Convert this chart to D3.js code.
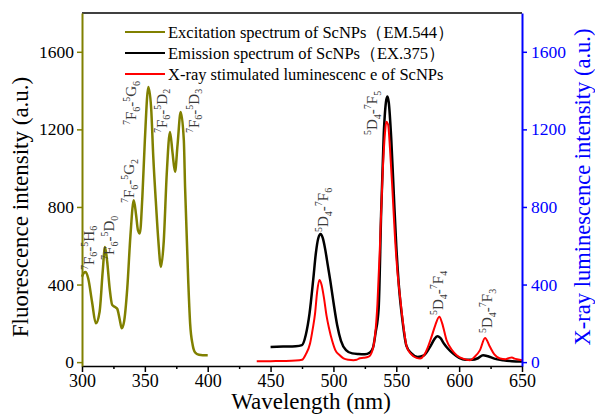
<!DOCTYPE html>
<html>
<head>
<meta charset="utf-8">
<script src="https://cdn.jsdelivr.net/npm/d3@7"></script>
<style>
  body { margin: 0; background: #fff; }
  svg { display: block; font-family: "Liberation Serif", "Times New Roman", serif; }
</style>
</head>
<body>
<svg id="chart" width="595" height="416"></svg>
<script>
// ---- data ----
var excitationNm  = [300, 301.5, 303, 305, 308, 311, 314, 316.5, 318.3, 320, 322, 324, 326, 328, 330, 331.6, 333.5, 336, 338.5, 341.2, 343, 344.5, 346, 348, 350, 352.8, 355, 356.7, 359, 360.7, 362.8, 365, 367.4, 370, 372, 374, 376, 378.5, 381, 382, 384.5, 386, 388, 390, 393, 396, 400];
var excitationVal = [440, 460, 465, 430, 310, 200, 260, 470, 594, 520, 380, 295, 285, 275, 220, 174, 210, 380, 650, 835, 760, 680, 663, 850, 1144, 1419, 1310, 1058, 800, 629, 491, 620, 970, 1187, 1080, 981, 1120, 1290, 1144, 900, 420, 200, 90, 50, 38, 36, 36];

var emissionNm  = [450, 460, 470, 475, 478, 481, 484, 486, 488, 489.8, 491.5, 493.5, 495.5, 497.5, 500, 503, 506, 510, 515, 520, 525, 529, 531.5, 533.5, 536, 538, 540, 542, 543, 544, 546, 548, 550, 552, 555, 558, 562, 567, 572, 577, 580, 582.6, 585, 588, 591, 595, 600, 605, 610, 615, 619, 623, 628, 635, 642, 650];
var emissionVal = [78, 80, 82, 88, 140, 251, 430, 560, 640, 660, 640, 580, 500, 420, 310, 190, 110, 62, 45, 42, 41, 50, 75, 150, 280, 780, 1170, 1350, 1370, 1340, 1150, 870, 600, 400, 210, 85, 45, 27, 35, 80, 115, 134, 125, 95, 70, 45, 22, 12, 12, 20, 36, 30, 18, 10, 5, 3];

var xrayNm  = [439, 450, 460, 470, 475, 478, 481.4, 483.5, 485.4, 487, 488.8, 490.5, 492.5, 494.5, 496.5, 499, 501.5, 505, 508, 512, 516, 518.5, 521, 524, 528, 531, 533, 535, 537, 539, 541, 542, 543.5, 545, 547, 549, 551, 553, 556, 558.3, 562, 566, 569, 572, 575, 578, 581, 584.2, 586.5, 590, 594, 598, 603, 608.6, 612, 616.6, 620.6, 624.5, 628, 632.5, 637, 640, 642, 644, 647, 650];
var xrayVal = [4, 5, 6, 8, 12, 40, 96, 170, 251, 360, 423, 400, 330, 240, 175, 110, 62, 35, 19, 12, 10, 12, 20, 22, 28, 60, 130, 300, 600, 950, 1180, 1239, 1225, 1100, 880, 640, 460, 337, 170, 79, 40, 22, 19, 35, 75, 130, 190, 234, 200, 113, 65, 36, 18, 10, 25, 62, 125, 79, 40, 19, 15, 22, 24, 18, 14, 10];

var xTicks = [300, 350, 400, 450, 500, 550, 600, 650];
var xMinorTicks = [325, 375, 425, 475, 525, 575, 625];
var yTicks = [0, 400, 800, 1200, 1600];

var legendLabels = ["Excitation spectrum of ScNPs\uff08EM.544\uff09",
                    "Emission spectrum of ScNPs\uff08EX.375\uff09",
                    "X-ray stimulated luminescenc e of ScNPs"];
var legendColors = ["#808000", "#000000", "#ff0000"];

// transition labels: ^ = superscript, _ = subscript, anchored at [nm, value]
var peakLabels = ["^7F_6-^5H_6", "^7F_6-^5D_0", "^7F_6-^5G_2", "^7F_6-^5G_6", "^7F_6-^5D_2", "^7F_6-^5D_3",
                  "^5D_4-^7F_6", "^5D_4-^7F_5", "^5D_4-^7F_4", "^5D_4-^7F_3"];
var peakLabelNm  = [309.5, 325.5, 341.4, 343, 367.6, 393, 495.7, 534.7, 587.2, 626.2];
var peakLabelVal = [475, 527, 820, 1222, 1181, 1181, 671, 1171, 243, 150];

// ---- layout ----
var svg = d3.select("#chart");
var plotLeft = 82, plotRight = 522, plotTop = 13, plotBottom = 366;

var x = d3.scaleLinear().domain([300, 650]).range([plotLeft, plotRight]);
var y = d3.scaleLinear().domain([-20, 1800]).range([plotBottom, plotTop]);

function zipSeries(nm, val) {
    return nm.map(function (d, i) { return [d, val[i]]; });
}

var line = d3.line()
    .x(function (d) { return x(d[0]); })
    .y(function (d) { return y(d[1]); })
    .curve(d3.curveMonotoneX);

var plot = svg.append("g");

plot.append("path").datum(zipSeries(excitationNm, excitationVal))
    .attr("d", line).attr("fill", "none")
    .attr("stroke", "#808000").attr("stroke-width", 2.5);

plot.append("path").datum(zipSeries(emissionNm, emissionVal))
    .attr("d", line).attr("fill", "none")
    .attr("stroke", "#000").attr("stroke-width", 2.5);

plot.append("path").datum(zipSeries(xrayNm, xrayVal))
    .attr("d", line).attr("fill", "none")
    .attr("stroke", "#ff0000").attr("stroke-width", 2);

// ---- axes ----
// top frame line
svg.append("line").attr("x1", plotLeft).attr("x2", plotRight).attr("y1", plotTop).attr("y2", plotTop)
    .attr("stroke", "#000").attr("stroke-width", 1.5);

var xAxisMinor = d3.axisBottom(x).tickValues(xMinorTicks).tickSize(3).tickFormat("");
svg.append("g").attr("transform", "translate(0," + plotBottom + ")").call(xAxisMinor)
    .call(function (g) { g.select(".domain").remove(); })
    .selectAll("line").attr("stroke-width", 1.5);

var xAxis = d3.axisBottom(x).tickValues(xTicks).tickSize(6).tickPadding(2)
    .tickSizeOuter(0).tickFormat(d3.format("d"));
var gx = svg.append("g").attr("transform", "translate(0," + plotBottom + ")").call(xAxis);
gx.select(".domain").attr("stroke-width", 1.5);
gx.selectAll("line").attr("stroke-width", 1.5);
gx.selectAll("text").attr("font-size", 18).attr("font-family", "Liberation Serif").attr("fill", "#000");

var yAxisLeft = d3.axisLeft(y).tickValues(yTicks).tickSize(5).tickPadding(3)
    .tickSizeOuter(0).tickFormat(d3.format("d"));
var gyl = svg.append("g").attr("transform", "translate(" + plotLeft + ",0)").call(yAxisLeft);
gyl.select(".domain").attr("stroke", "#808000").attr("stroke-width", 2);
gyl.selectAll("line").attr("stroke", "#808000").attr("stroke-width", 1.5);
gyl.selectAll("text").attr("font-size", 17.5).attr("font-family", "Liberation Serif").attr("fill", "#000");

var yAxisRight = d3.axisRight(y).tickValues(yTicks).tickSize(5).tickPadding(4)
    .tickSizeOuter(0).tickFormat(d3.format("d"));
var gyr = svg.append("g").attr("transform", "translate(" + plotRight + ",0)").call(yAxisRight);
gyr.select(".domain").attr("stroke", "#0000ff").attr("stroke-width", 2);
gyr.selectAll("line").attr("stroke", "#0000ff").attr("stroke-width", 1.5);
gyr.selectAll("text").attr("font-size", 17.5).attr("font-family", "Liberation Serif").attr("fill", "#0000ff");

// axis titles
svg.append("text").attr("x", 311).attr("y", 409).attr("text-anchor", "middle")
    .attr("font-size", 23).text("Wavelength (nm)");

svg.append("text").attr("transform", "translate(28,207) rotate(-90)")
    .attr("text-anchor", "middle").attr("font-size", 23)
    .text("Fluorescence intensity (a.u.)");

svg.append("text").attr("transform", "translate(590,187) rotate(-90)")
    .attr("text-anchor", "middle").attr("font-size", 22.5).attr("fill", "#0000ff")
    .text("X-ray luminescence intensity (a.u.)");

// ---- peak labels ----
function addRichText(sel, str) {
    var offset = 0, i = 0;
    while (i < str.length) {
        var c = str[i], mode = "";
        if (c === "^" || c === "_") { mode = c; i++; c = str[i]; }
        var target = mode === "^" ? -6 : (mode === "_" ? 3.5 : 0);
        sel.append("tspan")
            .attr("dy", target - offset)
            .attr("font-size", mode ? 10 : 15)
            .text(c);
        offset = target;
        i++;
    }
}

peakLabels.forEach(function (lbl, i) {
    var t = svg.append("text")
        .attr("transform", "translate(" + x(peakLabelNm[i]) + "," + y(peakLabelVal[i]) + ") rotate(-90)")
        .attr("fill", "#3a3a3a");
    addRichText(t, lbl);
});

// ---- legend ----
var legend = svg.append("g");
legendLabels.forEach(function (lbl, i) {
    var cy = 32 + i * 21;
    legend.append("line").attr("x1", 125).attr("x2", 165).attr("y1", cy).attr("y2", cy)
        .attr("stroke", legendColors[i]).attr("stroke-width", 2);
    legend.append("text").attr("x", 168).attr("y", cy + 5.5)
        .attr("font-size", 16.5).attr("fill", "#000").text(lbl);
});
</script>
</body>
</html>
